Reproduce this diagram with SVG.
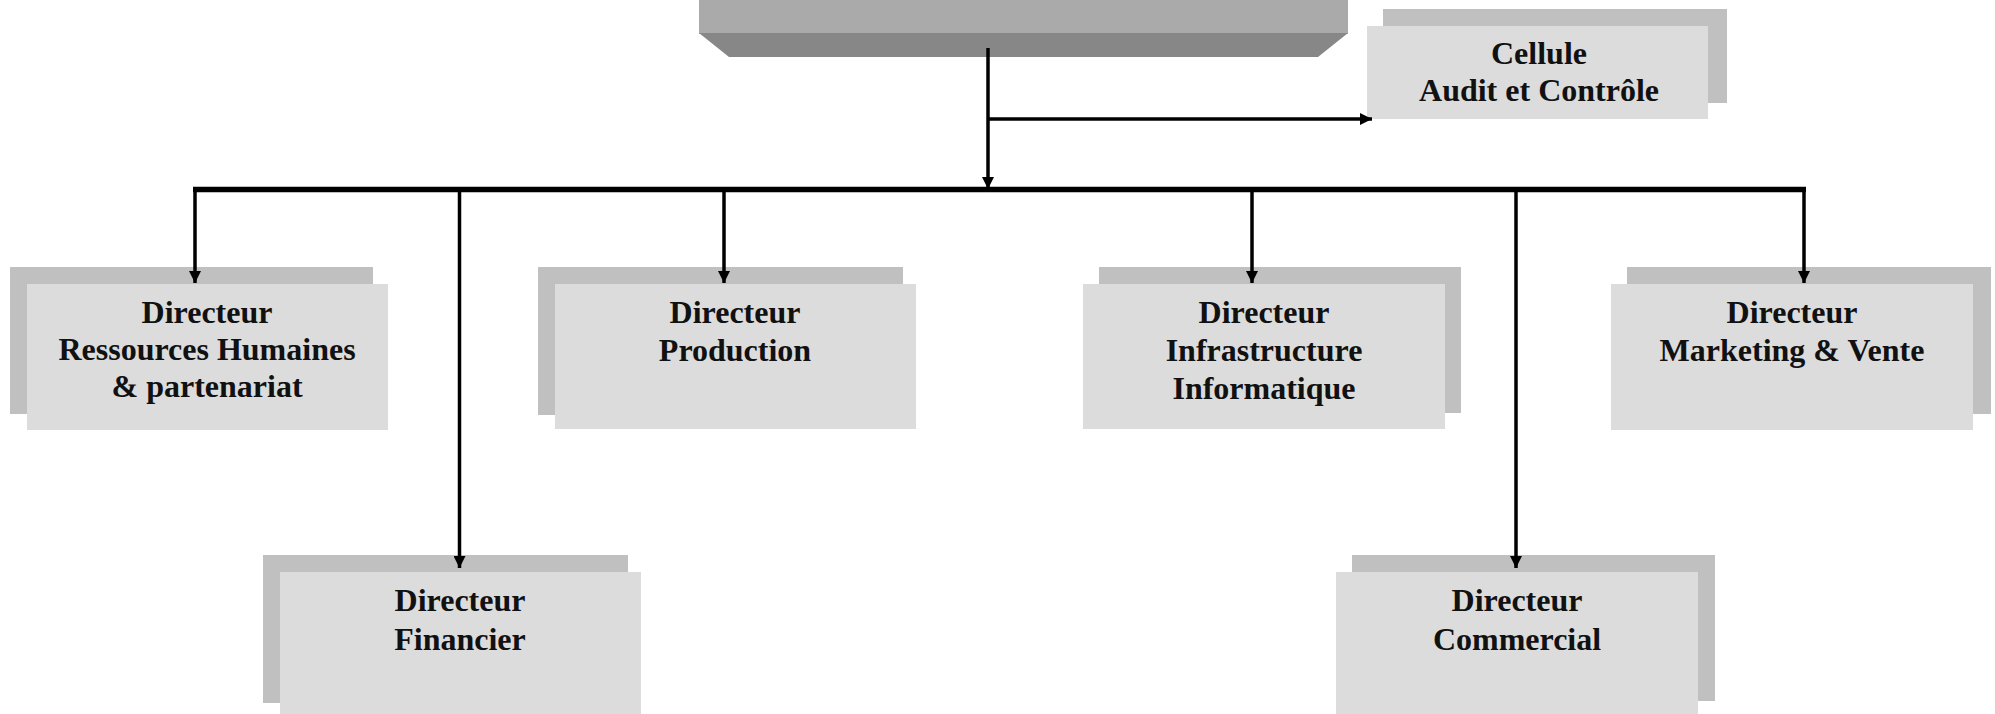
<svg xmlns="http://www.w3.org/2000/svg" width="1995" height="714" viewBox="0 0 1995 714">
<style>
.back{fill:#c0c0c0}
.front{fill:#dcdcdc}
.t{font-family:"Liberation Serif","Times New Roman",serif;font-weight:bold;font-size:32px;fill:#111;text-anchor:middle}
.ln{stroke:#000;stroke-width:3.5;fill:none}
</style>
<defs>
<marker id="ah" viewBox="0 0 10 10" refX="10" refY="5" markerWidth="13" markerHeight="12" markerUnits="userSpaceOnUse" orient="auto">
<path d="M0,0 L10,5 L0,10 Z" fill="#000"/>
</marker>
</defs>
<g id="top">
<rect x="699" y="0" width="649" height="34" fill="#aaaaaa"/>
<path d="M699,33 L1348,33 L1318,57 L729,57 Z" fill="#878787"/>
</g>
<g id="cellule">
<rect class="back" x="1383" y="9" width="344" height="94"/>
<rect class="front" x="1367" y="26" width="341" height="93"/>
<text class="t" x="1539" y="64">Cellule</text>
<text class="t" x="1539" y="101">Audit et Contrôle</text>
</g>
<g id="rh">
<rect class="back" x="10" y="267" width="363" height="147"/>
<rect class="front" x="27" y="284" width="361" height="146"/>
<text class="t" x="207" y="323">Directeur</text>
<text class="t" x="207" y="360">Ressources Humaines</text>
<text class="t" x="207" y="397">&amp; partenariat</text>
</g>
<g id="production">
<rect class="back" x="538" y="267" width="365" height="148"/>
<rect class="front" x="555" y="284" width="361" height="145"/>
<text class="t" x="735" y="323">Directeur</text>
<text class="t" x="735" y="361">Production</text>
</g>
<g id="infrastructure">
<rect class="back" x="1099" y="267" width="362" height="146"/>
<rect class="front" x="1083" y="284" width="362" height="145"/>
<text class="t" x="1264" y="323">Directeur</text>
<text class="t" x="1264" y="361">Infrastructure</text>
<text class="t" x="1264" y="399">Informatique</text>
</g>
<g id="marketing">
<rect class="back" x="1627" y="267" width="364" height="147"/>
<rect class="front" x="1611" y="284" width="362" height="146"/>
<text class="t" x="1792" y="323">Directeur</text>
<text class="t" x="1792" y="361">Marketing &amp; Vente</text>
</g>
<g id="financier">
<rect class="back" x="263" y="555" width="365" height="148"/>
<rect class="front" x="280" y="572" width="361" height="142"/>
<text class="t" x="460" y="611">Directeur</text>
<text class="t" x="460" y="650">Financier</text>
</g>
<g id="commercial">
<rect class="back" x="1352" y="555" width="363" height="146"/>
<rect class="front" x="1336" y="572" width="362" height="142"/>
<text class="t" x="1517" y="611">Directeur</text>
<text class="t" x="1517" y="650">Commercial</text>
</g>
<g id="connectors">
<line class="ln" x1="988" y1="48" x2="988" y2="189" marker-end="url(#ah)"/>
<line class="ln" x1="988" y1="119" x2="1372" y2="119" marker-end="url(#ah)"/>
<line x1="193" y1="189.5" x2="1806" y2="189.5" stroke="#000" stroke-width="5.5"/>
<line class="ln" x1="195" y1="188" x2="195" y2="283" marker-end="url(#ah)"/>
<line class="ln" x1="724" y1="188" x2="724" y2="283" marker-end="url(#ah)"/>
<line class="ln" x1="1252" y1="188" x2="1252" y2="283" marker-end="url(#ah)"/>
<line class="ln" x1="1804" y1="188" x2="1804" y2="283" marker-end="url(#ah)"/>
<line class="ln" x1="459.5" y1="188" x2="459.5" y2="568" marker-end="url(#ah)"/>
<line class="ln" x1="1516" y1="188" x2="1516" y2="568" marker-end="url(#ah)"/>
</g>
</svg>
